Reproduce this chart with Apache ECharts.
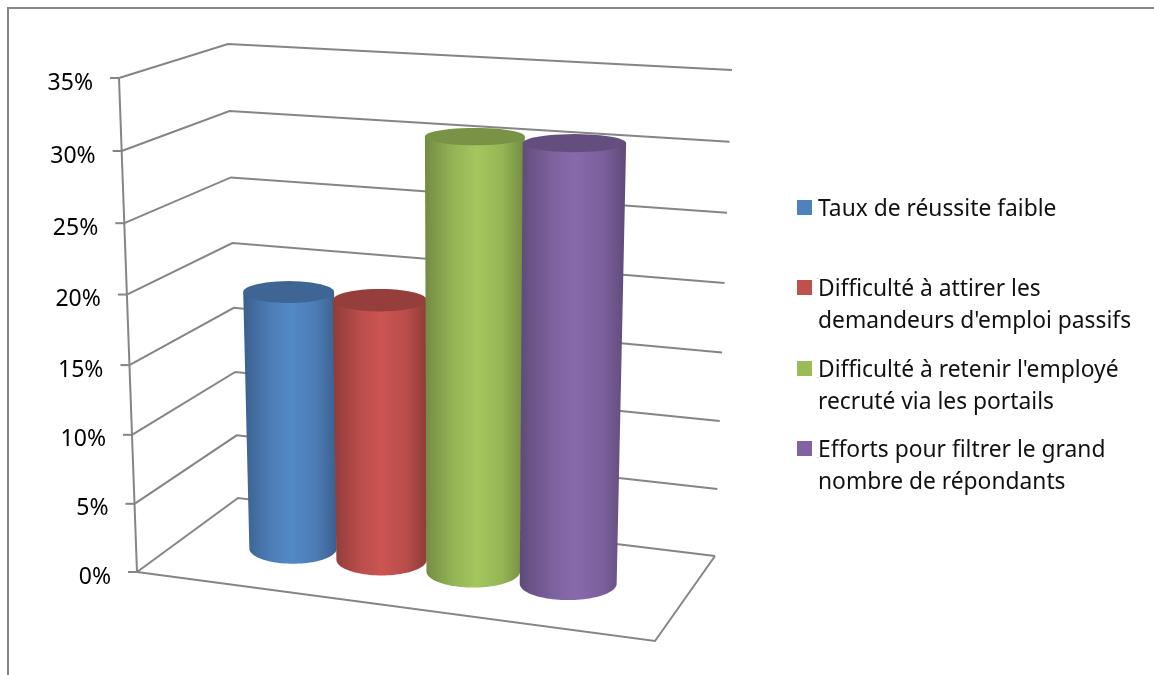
<!DOCTYPE html>
<html>
<head>
<meta charset="utf-8">
<style>html,body{margin:0;padding:0;background:#fff}#chart{width:1154px;height:675px}</style>
<script src="https://cdn.jsdelivr.net/npm/echarts@6/dist/echarts.min.js"></script>
</head>
<body>
<div id="chart"></div>
<script>
// Survey shares, one cylinder per answer
const seriesNames = [
  "Taux de réussite faible",
  "Difficulté à attirer les demandeurs d'emploi passifs",
  "Difficulté à retenir l'employé recruté via les portails",
  "Efforts pour filtrer le grand nombre de répondants"
];
const seriesValues = [19, 19, 31, 31];
const seriesColors = ['#4f81bd', '#c0504d', '#9bbb59', '#8064a2'];
const legendLines = [
  ["Taux de réussite faible"],
  ["Difficulté à attirer les", "demandeurs d'emploi passifs"],
  ["Difficulté à retenir l'employé", "recruté via les portails"],
  ["Efforts pour filtrer le grand", "nombre de répondants"]
];
const legendCentres = [207.5, 287.5, 368.5, 448.5];
const tickValues = [0, 5, 10, 15, 20, 25, 30, 35];

const FONT = '"Noto Sans"';
const LINE = '#858585';
// Square swatch sitting slightly above the text's centre line
const SWATCH = 'path://M0,0H15V15H0Z M0,19L0,19Z';

// Screen corners of the 3D box: floor and ceiling, front/back, left/right
const floorQuad = { FL: [137, 572], FR: [655, 641], BL: [238, 498], BR: [715, 556] };
const ceilQuad = { FL: [119, 78], FR: [665, 112], BL: [228, 44], BR: [732, 70] };
const persp = (x, k) => (1 - k) * x / (1 - k * x);
const lerp = (a, b, s) => [a[0] + (b[0] - a[0]) * s, a[1] + (b[1] - a[1]) * s];
const onQuad = (q, u, w) => lerp(lerp(q.FL, q.FR, u), lerp(q.BL, q.BR, u), w);

// Project box coordinates (u across, w into depth, t up) on to the screen
function project(u, w, t) {
  const U = persp(u, 0.09), T = persp(t, 0.039);
  return lerp(onQuad(floorQuad, U, w), onQuad(ceilQuad, U, w), T);
}
// Normalised height of a value
function heightOf(api, params, value) {
  const cs = params.coordSys;
  return (cs.y + cs.height - api.coord([0, value])[1]) / cs.height;
}
function bandOf(api, params, index) {
  const cs = params.coordSys;
  const nx = (api.coord([index, 0])[0] - cs.x) / cs.width;
  return 0.505 + (nx - 0.5) * 4 * 0.1845;
}
function shade(hex, f) {
  const n = parseInt(hex.slice(1), 16);
  const ch = s => Math.min(255, Math.round(((n >> s) & 255) * f));
  return 'rgb(' + ch(16) + ',' + ch(8) + ',' + ch(0) + ')';
}
const lineStyle = { stroke: LINE, lineWidth: 2, fill: null };

// Walls, floor, value ticks and their labels
function renderWall(params, api) {
  const v = api.value(1);
  const t = heightOf(api, params, v);
  const a = project(0, 0, t), b = project(0, 1, t), c = project(1, 1, t);
  const kids = [
    { type: 'polyline', shape: { points: [a, b, c] }, style: lineStyle },
    { type: 'line', shape: { x1: a[0] - 9, y1: a[1], x2: a[0], y2: a[1] }, style: lineStyle },
    { type: 'text', style: { text: v + '%', x: a[0] - 26, y: a[1] + 5, align: 'right', verticalAlign: 'middle',
      fontFamily: FONT, fontSize: 23, fill: '#000' } }
  ];
  if (v === 0) {
    const top = project(0, 0, 1);
    kids.push({ type: 'line', shape: { x1: a[0], y1: a[1], x2: top[0], y2: top[1] }, style: lineStyle });
    kids.push({ type: 'polyline', shape: { points: [a, project(1, 0, 0), c] }, style: lineStyle });
  }
  return { type: 'group', children: kids };
}

// One cylinder standing at mid depth
function renderCylinder(params, api) {
  const i = api.value(0);
  const u = bandOf(api, params, i);
  const t = heightOf(api, params, api.value(1));
  const rw = 0.2;
  const base = seriesColors[i];
  const ring = h => {
    const ru = 0.0925 * (1 + 0.02 * h);
    const c = project(u, 0.5, h);
    const l = project(u - ru, 0.5, h), r = project(u + ru, 0.5, h);
    const f = project(u, 0.5 - rw, h), k = project(u, 0.5 + rw, h);
    return { x: c[0], y: c[1], rx: (r[0] - l[0]) / 2, ry: (f[1] - k[1]) / 2 };
  };
  const arc = (e, from, to) => {
    const pts = [];
    for (let s = 0; s <= 48; s++) {
      const a = from + (to - from) * s / 48;
      pts.push([e.x + e.rx * Math.cos(a), e.y + e.ry * Math.sin(a)]);
    }
    return pts;
  };
  const bottom = ring(0), top = ring(t);
  const bodyPts = [[top.x - top.rx, top.y]].concat(arc(bottom, Math.PI, 0), [[top.x + top.rx, top.y]]);
  const fill = new echarts.graphic.LinearGradient(0, 0, 1, 0, [
    { offset: 0, color: shade(base, 0.74) },
    { offset: 0.12, color: shade(base, 0.84) },
    { offset: 0.3, color: shade(base, 0.97) },
    { offset: 0.52, color: shade(base, 1.06) },
    { offset: 0.78, color: shade(base, 0.96) },
    { offset: 1, color: shade(base, 0.74) }
  ]);
  return { type: 'group', children: [
    { type: 'polygon', shape: { points: bodyPts }, style: { fill: fill } },
    { type: 'polygon', shape: { points: arc(top, 0, Math.PI * 2) }, style: { fill: shade(base, 0.78) } }
  ] };
}

const chart = echarts.init(document.getElementById('chart'), null, { renderer: 'canvas' });
const series = [{
  type: 'custom', name: 'axes', silent: true, clip: false, z: 1, animation: false,
  renderItem: renderWall,
  data: tickValues.map(v => [0, v])
}].concat(seriesNames.map((name, i) => ({
  type: 'custom', name: name, clip: false, z: 2 + i, animation: false,
  itemStyle: { color: seriesColors[i] },
  renderItem: renderCylinder,
  data: [[i, seriesValues[i]]]
})));

const legends = seriesNames.map((name, i) => {
  const lines = legendLines[i];
  const tall = lines.length > 1;
  return {
    data: [name], orient: 'vertical', left: 797, padding: 0, selectedMode: false,
    top: legendCentres[i] + 2 - (tall ? 48 : 16),
    icon: SWATCH, itemWidth: 15, itemHeight: 19,
    textStyle: { fontFamily: FONT, fontSize: 22.8, lineHeight: 32, color: '#111', padding: [0, 0, 0, 1] },
    // blank first row keeps the swatch level with the first line of text
    formatter: () => (tall ? ' \n' : '') + lines.join('\n')
  };
});

chart.setOption({
  animation: false,
  backgroundColor: '#fff',
  grid: { left: 0, right: 0, top: 0, bottom: 0 },
  xAxis: { type: 'category', data: seriesNames, show: false },
  yAxis: { type: 'value', min: 0, max: 35, interval: 5, show: false },
  legend: legends,
  series: series,
  graphic: [{
    type: 'polyline', silent: true,
    shape: { points: [[8, 675], [8, 8], [1154, 8]] },
    style: { stroke: '#868686', lineWidth: 2, fill: null }
  }]
});
</script>
</body>
</html>
